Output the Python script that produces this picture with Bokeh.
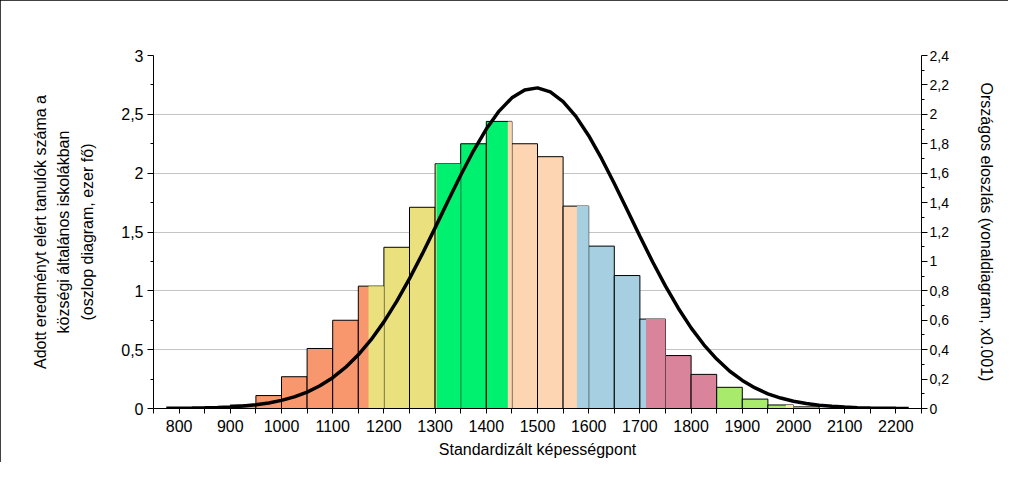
from bokeh.plotting import figure
from bokeh.models import LinearAxis, Range1d, FixedTicker, CustomJSTickFormatter, InlineStyleSheet
from bokeh.embed import file_html
from bokeh.resources import INLINE

# ---- data ----
bin_left = [900, 950, 1000, 1050, 1100, 1150, 1200, 1250, 1300, 1350, 1400, 1450,
            1500, 1550, 1600, 1650, 1700, 1750, 1800, 1850, 1900, 1950, 2000]
bin_width = 50
bar_height = [0.03, 0.11, 0.27, 0.51, 0.75, 1.04, 1.37, 1.71, 2.08, 2.25, 2.44, 2.25,
              2.14, 1.72, 1.38, 1.13, 0.76, 0.45, 0.29, 0.18, 0.08, 0.03, 0.014]

level_edges = [750, 1170, 1303, 1442, 1577, 1712, 1850, 1985, 2250]
level_colors = ["#f8976e", "#ebe07e", "#00f070", "#fdd5b2", "#a6d0e2", "#d9849a",
                "#a8eb6c", "#eeee9a"]

curve_x = [775, 800, 825, 850, 875, 900, 925, 950, 975, 1000, 1025, 1050, 1075, 1100,
           1125, 1150, 1175, 1200, 1225, 1250, 1275, 1300, 1325, 1350, 1375, 1400,
           1425, 1450, 1475, 1500, 1525, 1550, 1575, 1600, 1625, 1650, 1675, 1700,
           1725, 1750, 1775, 1800, 1825, 1850, 1875, 1900, 1925, 1950, 1975, 2000,
           2025, 2050, 2075, 2100, 2125, 2150, 2175, 2200, 2225]
curve_y = [0.0009, 0.0016, 0.0026, 0.0043, 0.0069, 0.0108, 0.0168, 0.0254, 0.0379,
           0.0553, 0.0794, 0.1118, 0.1546, 0.2097, 0.2793, 0.365, 0.468, 0.589, 0.728,
           0.883, 1.051, 1.228, 1.409, 1.586, 1.752, 1.900, 2.022, 2.112, 2.166, 2.180,
           2.153, 2.087, 1.986, 1.855, 1.700, 1.530, 1.351, 1.171, 0.996, 0.832, 0.682,
           0.548, 0.433, 0.336, 0.255, 0.191, 0.140, 0.100, 0.0709, 0.0491, 0.0334,
           0.0223, 0.0146, 0.0094, 0.0059, 0.0037, 0.0022, 0.0013, 0.0008]

x_ticks = [800, 900, 1000, 1100, 1200, 1300, 1400, 1500, 1600, 1700, 1800, 1900,
           2000, 2100, 2200]
x_minor = [750, 850, 950, 1050, 1150, 1250, 1350, 1450, 1550, 1650, 1750, 1850,
           1950, 2050, 2150, 2250]
left_ticks = [0, 0.5, 1, 1.5, 2, 2.5, 3]
left_minor = [0.25, 0.75, 1.25, 1.75, 2.25, 2.75]
right_ticks = [0, 0.2, 0.4, 0.6, 0.8, 1.0, 1.2, 1.4, 1.6, 1.8, 2.0, 2.2, 2.4]
right_minor = [0.1, 0.3, 0.5, 0.7, 0.9, 1.1, 1.3, 1.5, 1.7, 1.9, 2.1, 2.3]

x_title = "Standardizált képességpont"
left_title = "Adott eredményt elért tanulók száma a\nközségi általános iskolákban\n(oszlop diagram, ezer fő)"
right_title = "Országos eloszlás (vonaldiagram, x0.001)"

FONT = "Liberation Sans"
W, H = 1008, 462

frame_css = InlineStyleSheet(css="""
.bk-Canvas { outline: 3px solid black; outline-offset: -3px; }
""")

p = figure(width=W, height=H, x_range=(750, 2250), y_range=(0, 3),
           output_backend="svg", toolbar_location=None,
           min_border_left=153, min_border_right=87, min_border_top=55,
           min_border_bottom=54)
p.stylesheets = [frame_css]
p.outline_line_color = None
p.background_fill_color = "white"
p.border_fill_color = "white"
p.extra_y_ranges = {"r": Range1d(0, 2.4)}

p.xgrid.visible = False
p.ygrid.ticker = FixedTicker(ticks=left_ticks)
p.ygrid.grid_line_color = "#c4c4c4"
p.ygrid.grid_line_width = 1

# bars: base colour from the level at the bar's left edge
def level_of(x):
    for i in range(len(level_colors)):
        if level_edges[i] <= x < level_edges[i + 1]:
            return i
    return len(level_colors) - 1

lefts = bin_left
rights = [l + bin_width for l in bin_left]
base_cols = [level_colors[level_of(l)] for l in bin_left]
p.quad(left=lefts, right=rights, top=bar_height, bottom=0, fill_color=base_cols,
       line_color="black", line_width=1)

ov_l, ov_r, ov_t, ov_c = [], [], [], []
for l, r, h in zip(lefts, rights, bar_height):
    for i, e in enumerate(level_edges):
        if l < e < r:
            ov_l.append(e)
            ov_r.append(r)
            ov_t.append(h)
            ov_c.append(level_colors[i])
if ov_l:
    p.quad(left=ov_l, right=ov_r, top=ov_t, bottom=0, fill_color=ov_c, line_color=None)

p.line(curve_x, curve_y, y_range_name="r", line_color="black", line_width=3.5)

# axes
xa = p.xaxis[0]
xa.ticker = FixedTicker(ticks=x_ticks, minor_ticks=x_minor)
xa.axis_label = x_title
ya = p.yaxis[0]
ya.ticker = FixedTicker(ticks=left_ticks, minor_ticks=left_minor)
ya.formatter = CustomJSTickFormatter(code="return tick.toString().replace('.', ',');")
ya.axis_label = left_title

ra = LinearAxis(y_range_name="r",
                ticker=FixedTicker(ticks=right_ticks, minor_ticks=right_minor),
                formatter=CustomJSTickFormatter(
                    code="return (Math.round(tick*10)/10).toString().replace('.', ',');"),
                axis_label=right_title)
p.add_layout(ra, "right")

for ax in [xa, ya, ra]:
    ax.axis_line_color = "black"
    ax.major_tick_line_color = "black"
    ax.minor_tick_line_color = "black"
    ax.major_tick_in = 0
    ax.minor_tick_in = 0
    ax.major_label_text_font = FONT
    ax.major_label_text_color = "black"
    ax.axis_label_text_font = FONT
    ax.axis_label_text_font_style = "normal"
    ax.axis_label_text_color = "black"
    ax.axis_label_text_font_size = "16px"

xa.major_tick_out = 5
xa.minor_tick_out = 5
xa.major_label_text_font_size = "16px"
xa.major_label_standoff = 6
xa.axis_label_standoff = 6

ya.major_tick_out = 6
ya.minor_tick_out = 3
ya.major_label_text_font_size = "16px"
ya.major_label_standoff = 4
ya.axis_label_standoff = 22
ya.axis_label_text_line_height = 1.4

ra.major_tick_out = 6
ra.minor_tick_out = 3
ra.major_label_text_font_size = "14px"
ra.major_label_standoff = 2
ra.axis_label_standoff = 26

open("out.html", "w").write(file_html(p, INLINE))
